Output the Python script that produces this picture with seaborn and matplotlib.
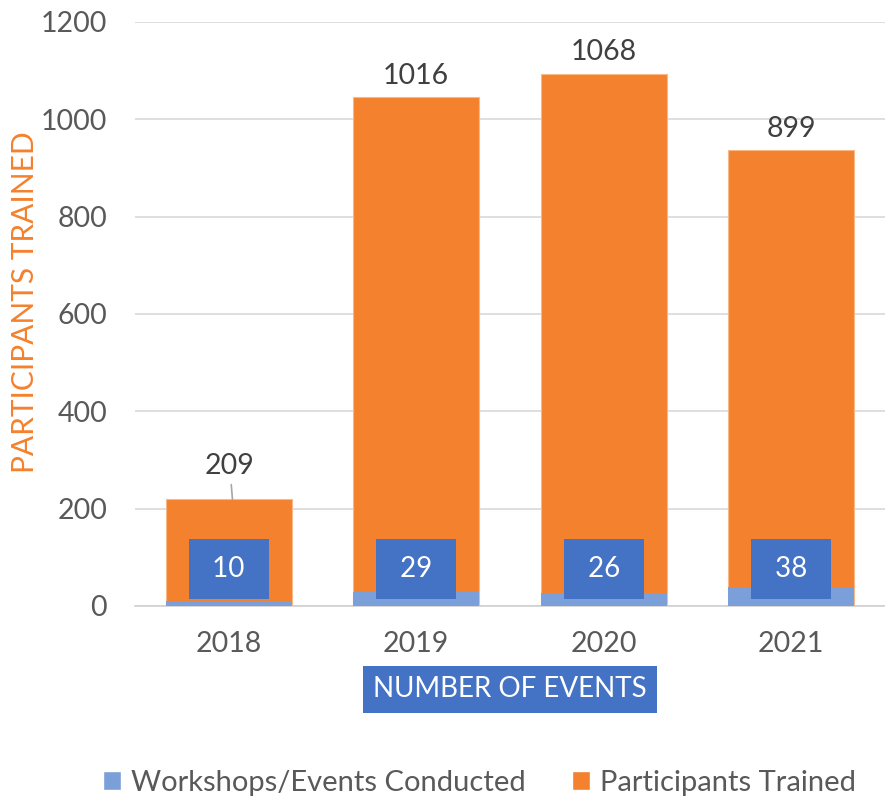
import numpy as np
import pandas as pd
import matplotlib
matplotlib.use('Agg')
import matplotlib.pyplot as plt
import seaborn as sns
from matplotlib.patches import Patch

# data
years = ['2018', '2019', '2020', '2021']
workshops = [10, 29, 26, 38]
participants = [209, 1016, 1068, 899]

ORANGE = '#F4812D'
LIGHT_BLUE = '#7B9FD8'
BOX_BLUE = '#4472C4'
TEXT_GRAY = '#595959'

sns.set_style('white')
plt.rcParams['font.family'] = ['Lato', 'DejaVu Sans']

df = pd.DataFrame({'year': years, 'workshops': workshops, 'participants': participants})
df['total'] = df['workshops'] + df['participants']

fig = plt.figure(figsize=(8.85, 8.02), dpi=100)
ax = fig.add_axes([0.1525, 0.2444, 0.8475, 0.7282])

# stacked bars: total in orange, workshops drawn over the bottom part
sns.barplot(data=df, x='year', y='total', color=ORANGE, width=0.67,
            saturation=1, ax=ax, edgecolor='#F8B888', linewidth=0.8, zorder=2)
sns.barplot(data=df, x='year', y='workshops', color=LIGHT_BLUE, width=0.67,
            saturation=1, ax=ax, linewidth=0, zorder=3)

ax.set_ylim(0, 1200)
ax.set_yticks(range(0, 1201, 200))
ax.yaxis.grid(True, color='#D9D9D9', linewidth=1.2, zorder=0)
ax.set_axisbelow(True)
for s in ['top', 'right', 'left']:
    ax.spines[s].set_visible(False)
ax.spines['bottom'].set_color('#D0D0D0')
ax.spines['bottom'].set_linewidth(1.2)
ax.tick_params(axis='x', length=0, labelsize=20.5, colors=TEXT_GRAY, pad=18)
ax.tick_params(axis='y', length=0, labelsize=20.5, colors=TEXT_GRAY, pad=20)

ax.set_ylabel('PARTICIPANTS TRAINED', color=ORANGE, fontsize=21.5)
ax.yaxis.set_label_coords(-0.128, 0.52)
ax.set_xlabel('NUMBER OF EVENTS', color='white', fontsize=20, labelpad=14,
              bbox=dict(boxstyle='square,pad=0.38', facecolor=BOX_BLUE, edgecolor='none'))

# value labels
for i, (w, p, t) in enumerate(zip(workshops, participants, df['total'])):
    ax.text(i, 76, f' {w} ', ha='center', va='center', fontsize=20, color='white', zorder=5,
            bbox=dict(boxstyle='square,pad=0.6', facecolor=BOX_BLUE, edgecolor='none'))
    if i == 0:
        ax.annotate(str(p), xy=(i + 0.02, t), xytext=(-2, 15), textcoords='offset points',
                    ha='center', va='bottom', fontsize=20.5, color='#404040',
                    arrowprops=dict(arrowstyle='-', color='#A6A6A6', lw=1.2,
                                    shrinkA=2, shrinkB=0))
    else:
        ax.annotate(str(p), xy=(i, t), xytext=(0, 6), textcoords='offset points',
                    ha='center', va='bottom', fontsize=20.5, color='#404040')

handles = [Patch(facecolor=LIGHT_BLUE, label='Workshops/Events Conducted'),
           Patch(facecolor=ORANGE, label='Participants Trained')]
fig.legend(handles=handles, loc='center', bbox_to_anchor=(0.542, 0.024), ncol=2,
           frameon=False, fontsize=21, handlelength=0.6, handleheight=0.6,
           handletextpad=0.35, columnspacing=1.6, labelcolor=TEXT_GRAY,
           borderpad=0, borderaxespad=0)

fig.savefig('out.png', dpi=100)
